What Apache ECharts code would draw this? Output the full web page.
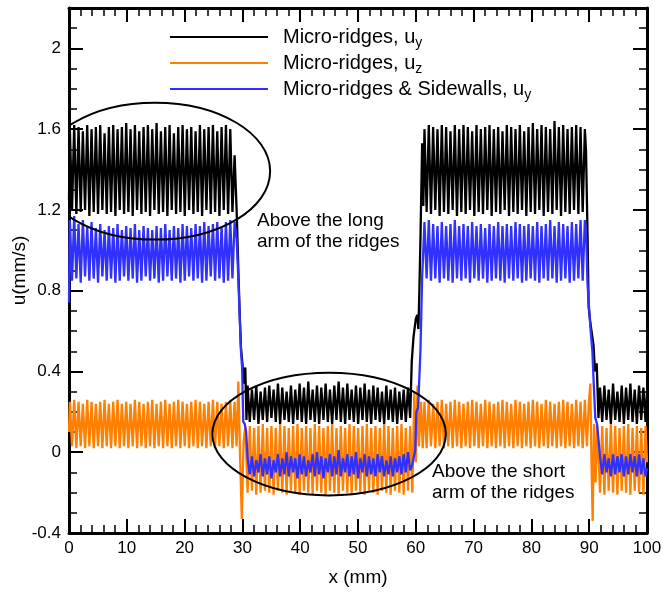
<!DOCTYPE html>
<html><head><meta charset="utf-8">
<script src="https://cdn.jsdelivr.net/npm/echarts@6/dist/echarts.min.js"></script>
<style>html,body{margin:0;padding:0;background:#fff}#c{width:663px;height:592px}</style>
</head><body><div id="c"></div>
<script>
// ---- x grids of the oscillating plateaus (mm) ----
const xA = [0.15,0.525,0.9,1.275,1.65,2.025,2.4,2.775,3.15,3.525,
3.9,4.275,4.65,5.025,5.4,5.775,6.15,6.525,6.9,7.275,
7.65,8.025,8.4,8.775,9.15,9.525,9.9,10.275,10.65,11.025,
11.4,11.775,12.15,12.525,12.9,13.275,13.65,14.025,14.4,14.775,
15.15,15.525,15.9,16.275,16.65,17.025,17.4,17.775,18.15,18.525,
18.9,19.275,19.65,20.025,20.4,20.775,21.15,21.525,21.9,22.275,
22.65,23.025,23.4,23.775,24.15,24.525,24.9,25.275,25.65,26.025,
26.4,26.775,27.15,27.525,27.9,28.275,28.65];
const xB = [30.9,31.275,31.65,32.025,32.4,32.775,33.15,33.525,33.9,34.275,
34.65,35.025,35.4,35.775,36.15,36.525,36.9,37.275,37.65,38.025,
38.4,38.775,39.15,39.525,39.9,40.275,40.65,41.025,41.4,41.775,
42.15,42.525,42.9,43.275,43.65,44.025,44.4,44.775,45.15,45.525,
45.9,46.275,46.65,47.025,47.4,47.775,48.15,48.525,48.9,49.275,
49.65,50.025,50.4,50.775,51.15,51.525,51.9,52.275,52.65,53.025,
53.4,53.775,54.15,54.525,54.9,55.275,55.65,56.025,56.4,56.775,
57.15,57.525,57.9,58.275,58.65,59.025];
const xC = [61.5,61.875,62.25,62.625,63.0,63.375,63.75,64.125,64.5,64.875,
65.25,65.625,66.0,66.375,66.75,67.125,67.5,67.875,68.25,68.625,
69.0,69.375,69.75,70.125,70.5,70.875,71.25,71.625,72.0,72.375,
72.75,73.125,73.5,73.875,74.25,74.625,75.0,75.375,75.75,76.125,
76.5,76.875,77.25,77.625,78.0,78.375,78.75,79.125,79.5,79.875,
80.25,80.625,81.0,81.375,81.75,82.125,82.5,82.875,83.25,83.625,
84.0,84.375,84.75,85.125,85.5,85.875,86.25,86.625,87.0,87.375,
87.75,88.125,88.5,88.875,89.25];
const xD = [91.875,92.25,92.625,93.0,93.375,93.75,94.125,94.5,94.875,95.25,
95.625,96.0,96.375,96.75,97.125,97.5,97.875,98.25,98.625,99.0,
99.375,99.75];

// ---- Micro-ridges, u_y (black) ----
const blackHead = [[0,1.25]];
const blackA = [1.60,1.20,1.62,1.18,1.61,1.19,1.59,1.20,1.62,1.17,
1.60,1.19,1.61,1.18,1.62,1.20,1.58,1.18,1.61,1.19,
1.62,1.17,1.60,1.20,1.61,1.18,1.63,1.19,1.60,1.17,
1.62,1.20,1.59,1.18,1.61,1.19,1.62,1.17,1.60,1.20,
1.63,1.18,1.59,1.19,1.61,1.17,1.62,1.20,1.58,1.18,
1.61,1.19,1.62,1.17,1.60,1.20,1.61,1.18,1.59,1.19,
1.62,1.17,1.60,1.20,1.61,1.18,1.62,1.19,1.59,1.17,
1.61,1.20,1.62,1.18,1.60,1.19,1.47];
const blackT1 = [[29.0,1.20],[29.35,0.85],[29.55,0.67],[29.75,0.52],[30.0,0.44],[30.25,0.34],[30.5,0.42],[30.7,0.16]];
const blackB = [0.33,0.15,0.31,0.16,0.33,0.14,0.30,0.16,0.32,0.15,
0.33,0.17,0.31,0.15,0.34,0.14,0.32,0.16,0.30,0.15,
0.33,0.14,0.31,0.16,0.34,0.15,0.32,0.14,0.35,0.16,
0.31,0.15,0.33,0.14,0.32,0.16,0.34,0.15,0.31,0.14,
0.33,0.16,0.35,0.15,0.32,0.14,0.34,0.16,0.31,0.15,
0.33,0.14,0.32,0.16,0.34,0.15,0.31,0.14,0.33,0.16,
0.32,0.15,0.30,0.14,0.33,0.16,0.31,0.15,0.32,0.14,
0.30,0.16,0.31,0.15,0.32,0.17];
const blackT2 = [[59.3,0.45],[59.6,0.57],[60.0,0.66],[60.25,0.68],[60.45,0.61],[60.6,0.78],[60.8,1.05],[61.1,1.53],[61.3,1.22]];
const blackC = [1.60,1.19,1.62,1.18,1.61,1.20,1.60,1.17,1.62,1.19,
1.61,1.18,1.59,1.20,1.62,1.17,1.60,1.19,1.62,1.18,
1.61,1.20,1.59,1.17,1.62,1.19,1.60,1.18,1.61,1.20,
1.62,1.17,1.60,1.19,1.61,1.18,1.59,1.20,1.62,1.17,
1.61,1.19,1.60,1.18,1.62,1.20,1.59,1.17,1.61,1.19,
1.63,1.18,1.60,1.20,1.62,1.17,1.61,1.19,1.60,1.18,
1.64,1.20,1.61,1.17,1.62,1.19,1.60,1.18,1.61,1.20,
1.62,1.18,1.61,1.19,1.60];
const blackT3 = [[89.45,1.49],[89.7,1.10],[89.9,0.72],[90.2,0.64],[90.5,0.58],[90.75,0.53],[91.0,0.40],[91.3,0.44],[91.6,0.17]];
const blackD = [0.32,0.15,0.33,0.16,0.31,0.14,0.34,0.16,0.30,0.15,
0.33,0.14,0.32,0.16,0.34,0.15,0.31,0.14,0.33,0.16,
0.32,0.15];
const blackTail = [[100,0.30]];

// ---- Micro-ridges, u_z (orange) ----
const orangeHead = [[0,0.10]];
const orangeA = [0.25,0.03,0.26,0.02,0.25,0.03,0.24,0.02,0.26,0.03,
0.25,0.02,0.24,0.03,0.25,0.02,0.26,0.03,0.24,0.02,
0.25,0.03,0.26,0.02,0.24,0.03,0.25,0.02,0.24,0.03,
0.26,0.02,0.25,0.03,0.24,0.02,0.25,0.03,0.26,0.02,
0.24,0.03,0.25,0.02,0.26,0.03,0.24,0.02,0.25,0.03,
0.26,0.02,0.25,0.03,0.24,0.02,0.25,0.03,0.26,0.02,
0.25,0.03,0.24,0.02,0.25,0.03,0.26,0.02,0.25,0.03,
0.24,0.02,0.25,0.03,0.26,0.02,0.25];
const orangeT1 = [[29.0,0.03],[29.3,0.35],[29.6,-0.02],[29.9,-0.33],[30.2,0.05],[30.5,0.13]];
const orangeB = [-0.20,0.13,-0.19,0.12,-0.21,0.13,-0.20,0.14,-0.19,0.12,
-0.20,0.13,-0.21,0.12,-0.19,0.14,-0.20,0.13,-0.21,0.12,
-0.19,0.13,-0.20,0.14,-0.21,0.12,-0.19,0.13,-0.20,0.12,
-0.21,0.14,-0.19,0.13,-0.20,0.12,-0.21,0.13,-0.19,0.14,
-0.20,0.12,-0.21,0.13,-0.19,0.12,-0.20,0.14,-0.21,0.13,
-0.19,0.12,-0.20,0.13,-0.21,0.14,-0.19,0.12,-0.20,0.13,
-0.21,0.12,-0.19,0.14,-0.20,0.13,-0.21,0.12,-0.19,0.13,
-0.20,0.14,-0.21,0.12,-0.19,0.13];
const orangeT2 = [[59.4,-0.20],[59.75,0.30],[60.0,-0.05],[60.3,0.33],[60.55,0.03],[60.9,0.25],[61.2,0.02]];
const orangeC = [0.25,0.02,0.26,0.03,0.24,0.02,0.25,0.03,0.26,0.02,
0.24,0.03,0.25,0.02,0.26,0.03,0.25,0.02,0.24,0.03,
0.25,0.02,0.26,0.03,0.25,0.02,0.24,0.03,0.26,0.02,
0.25,0.03,0.24,0.02,0.25,0.03,0.26,0.02,0.25,0.03,
0.24,0.02,0.26,0.03,0.25,0.02,0.24,0.03,0.25,0.02,
0.26,0.03,0.25,0.02,0.24,0.03,0.26,0.02,0.25,0.03,
0.24,0.02,0.25,0.03,0.26,0.02,0.25,0.03,0.24,0.02,
0.26,0.03,0.25,0.02,0.26];
const orangeT3 = [[89.6,0.03],[89.95,0.25],[90.2,0.34],[90.4,-0.05],[90.6,-0.34],[90.85,0.14],[91.1,-0.15],[91.4,0.13]];
const orangeD = [-0.20,0.13,-0.21,0.12,-0.19,0.14,-0.20,0.13,-0.21,0.12,
-0.19,0.13,-0.20,0.14,-0.21,0.12,-0.19,0.13,-0.20,0.12,
-0.21,0.13];
const orangeTail = [[100,-0.05]];

// ---- Micro-ridges & Sidewalls, u_y (blue) ----
const blueHead = [[0,0.74]];
const blueA = [1.15,0.85,1.17,0.86,1.13,0.84,1.15,0.87,1.12,0.85,
1.14,0.86,1.11,0.84,1.13,0.87,1.10,0.85,1.12,0.86,
1.11,0.84,1.13,0.85,1.10,0.87,1.12,0.85,1.11,0.86,
1.13,0.84,1.10,0.85,1.12,0.87,1.11,0.85,1.10,0.86,
1.12,0.84,1.11,0.85,1.13,0.87,1.10,0.85,1.12,0.86,
1.11,0.84,1.13,0.85,1.12,0.87,1.11,0.85,1.13,0.86,
1.12,0.84,1.14,0.85,1.12,0.87,1.13,0.85,1.14,0.86,
1.12,0.84,1.14,0.85,1.15,0.86,1.14];
const blueT1 = [[29.0,1.06],[29.3,0.86],[29.55,0.66],[29.75,0.50],[29.95,0.42],[30.15,0.15],[30.4,0.14],[30.65,0.10]];
const blueB = [-0.03,-0.11,-0.02,-0.12,-0.04,-0.10,-0.01,-0.12,-0.03,-0.11,
-0.02,-0.13,-0.04,-0.10,-0.01,-0.12,-0.03,-0.11,0.00,-0.12,
-0.02,-0.10,-0.03,-0.13,-0.01,-0.11,-0.02,-0.12,-0.04,-0.10,
-0.01,-0.12,0.00,-0.11,-0.02,-0.13,-0.03,-0.10,-0.01,-0.12,
-0.02,-0.11,0.01,-0.12,-0.03,-0.10,-0.01,-0.12,-0.02,-0.11,
0.00,-0.13,-0.03,-0.10,-0.01,-0.12,-0.02,-0.11,-0.03,-0.12,
-0.01,-0.10,-0.02,-0.12,-0.04,-0.11,-0.02,-0.12,-0.03,-0.10,
-0.02,-0.11,-0.01,-0.10,0.00,-0.09];
const blueT2 = [[59.4,-0.06],[59.9,0.01],[60.1,0.20],[60.4,0.22],[60.8,0.50],[61.1,0.87],[61.3,1.00]];
const blueC = [1.14,0.86,1.15,0.85,1.13,0.86,1.12,0.84,1.14,0.86,
1.12,0.85,1.13,0.84,1.15,0.86,1.12,0.85,1.13,0.86,
1.12,0.84,1.14,0.86,1.12,0.85,1.13,0.86,1.11,0.84,
1.13,0.85,1.12,0.86,1.14,0.85,1.12,0.84,1.13,0.86,
1.12,0.85,1.14,0.86,1.13,0.84,1.12,0.85,1.13,0.86,
1.12,0.85,1.14,0.84,1.12,0.86,1.13,0.85,1.15,0.86,
1.12,0.84,1.14,0.85,1.13,0.86,1.12,0.84,1.14,0.85,
1.13,0.86,1.15,0.85,1.15];
const blueT3 = [[89.5,1.06],[89.7,0.84],[89.9,0.75],[90.2,0.62],[90.55,0.50],[90.8,0.33],[91.05,0.17],[91.35,0.14],[91.65,0.05]];
const blueD = [-0.02,-0.11,-0.01,-0.10,-0.03,-0.12,-0.01,-0.11,-0.02,-0.10,
-0.01,-0.12,-0.02,-0.11,-0.01,-0.10,-0.02,-0.12,-0.01,-0.11,
-0.03,-0.12];
const blueTail = [[100,-0.08]];

// ---- annotation ellipses: [centre x (mm), centre u, half-width (mm), half-height] ----
const ellipses = [[14.9,1.392,19.9,0.339],[45.0,0.09,20.2,0.304]];

const seriesNames = ['Micro-ridges, uy','Micro-ridges, uz','Micro-ridges & Sidewalls, uy'];
const legendLabels = {
  'Micro-ridges, uy':'Micro-ridges, u{sub|y}',
  'Micro-ridges, uz':'Micro-ridges, u{sub|z}',
  'Micro-ridges & Sidewalls, uy':'Micro-ridges & Sidewalls, u{sub|y}'
};

function zip(xs, ys){ return xs.map((x,i)=>[x, ys[i]]); }
function build(head,A,T1,B,T2,C,T3,D,tail){
  return [].concat(head, zip(xA,A), T1, zip(xB,B), T2, zip(xC,C), T3, zip(xD,D), tail);
}
const blackData = build(blackHead,blackA,blackT1,blackB,blackT2,blackC,blackT3,blackD,blackTail);
const orangeData = build(orangeHead,orangeA,orangeT1,orangeB,orangeT2,orangeC,orangeT3,orangeD,orangeTail);
const blueData = build(blueHead,blueA,blueT1,blueB,blueT2,blueC,blueT3,blueD,blueTail);

const FONT = 'Arial, "Liberation Sans", sans-serif';
const chart = echarts.init(document.getElementById('c'), null, {renderer:'canvas'});

function xAx(pos, labels){
  return {
    type:'value', position:pos, min:0, max:100, interval:10,
    axisLine:{show:true, onZero:false, lineStyle:{color:'#000', width:3}},
    axisTick:{show:true, inside:true, length:14, lineStyle:{color:'#000', width:2}},
    minorTick:{show:true, splitNumber:5, length:8, lineStyle:{color:'#000', width:1.5}},
    axisLabel:{show:labels, fontSize:17, color:'#000', fontFamily:FONT, margin:7},
    splitLine:{show:false}, minorSplitLine:{show:false},
    name: labels ? 'x (mm)' : '', nameLocation:'middle', nameGap:35, nameMoveOverlap:false,
    nameTextStyle:{fontSize:19, color:'#000', fontFamily:FONT}
  };
}
function yAx(pos, major, labels){
  return {
    type:'value', position:pos, min:-0.4, max:2.2, interval: major ? 0.4 : 0.1,
    axisLine:{show:major, onZero:false, lineStyle:{color:'#000', width:3}},
    axisTick:{show:true, inside:true, length: major ? 14 : 8, lineStyle:{color:'#000', width: major ? 2 : 1.5}},
    axisLabel:{show:labels, showMaxLabel:false, fontSize:17, color:'#000', fontFamily:FONT, margin:8},
    splitLine:{show:false},
    name: labels ? 'u(mm/s)' : '', nameLocation:'middle', nameGap:40, nameMoveOverlap:false,
    nameTextStyle:{fontSize:19, color:'#000', fontFamily:FONT}
  };
}

chart.setOption({
  animation:false,
  backgroundColor:'#fff',
  grid:{left:69, right:16, top:8, bottom:59, containLabel:false, outerBoundsMode:'none'},
  xAxis:[xAx('bottom', true), xAx('top', false)],
  yAxis:[yAx('left', true, true), yAx('left', false, false), yAx('right', true, false), yAx('right', false, false)],
  legend:{
    orient:'vertical', left:170, top:24, padding:0, itemWidth:98, itemHeight:2, itemGap:0,
    icon:'rect', selectedMode:false, data:seriesNames,
    formatter: n => legendLabels[n],
    textStyle:{fontSize:20, color:'#000', fontFamily:FONT, lineHeight:26, padding:[0,0,0,10],
      rich:{sub:{fontSize:14, color:'#000', fontFamily:FONT, padding:[12,0,0,0]}}}
  },
  graphic:[
    {type:'text', left:257, top:210, z:100, style:{text:'Above the long\narm of the ridges', font:'19px Arial, "Liberation Sans", sans-serif', lineHeight:21, fill:'#000'}},
    {type:'text', left:432, top:461, z:100, style:{text:'Above the short\narm of the ridges', font:'19px Arial, "Liberation Sans", sans-serif', lineHeight:21, fill:'#000'}}
  ],
  series:[
    {name:seriesNames[1], type:'line', data:orangeData, symbol:'none', lineStyle:{color:'#ff8000', width:2.3}, itemStyle:{color:'#ff8000'}},
    {name:seriesNames[0], type:'line', data:blackData, symbol:'none', lineStyle:{color:'#000000', width:2.3}, itemStyle:{color:'#000000'}},
    {name:seriesNames[2], type:'line', data:blueData, symbol:'none', lineStyle:{color:'#3030ff', width:2.3}, itemStyle:{color:'#3030ff'}},
    {type:'custom', data:ellipses, clip:true, z:5, silent:true,
      renderItem:function(params, api){
        const c = api.coord([api.value(0), api.value(1)]);
        const s = api.size([api.value(2), api.value(3)]);
        return {type:'ellipse', shape:{cx:c[0], cy:c[1], rx:s[0], ry:s[1]},
          style:{fill:'none', stroke:'#000', lineWidth:2}};
      }}
  ]
});
</script>
</body></html>
